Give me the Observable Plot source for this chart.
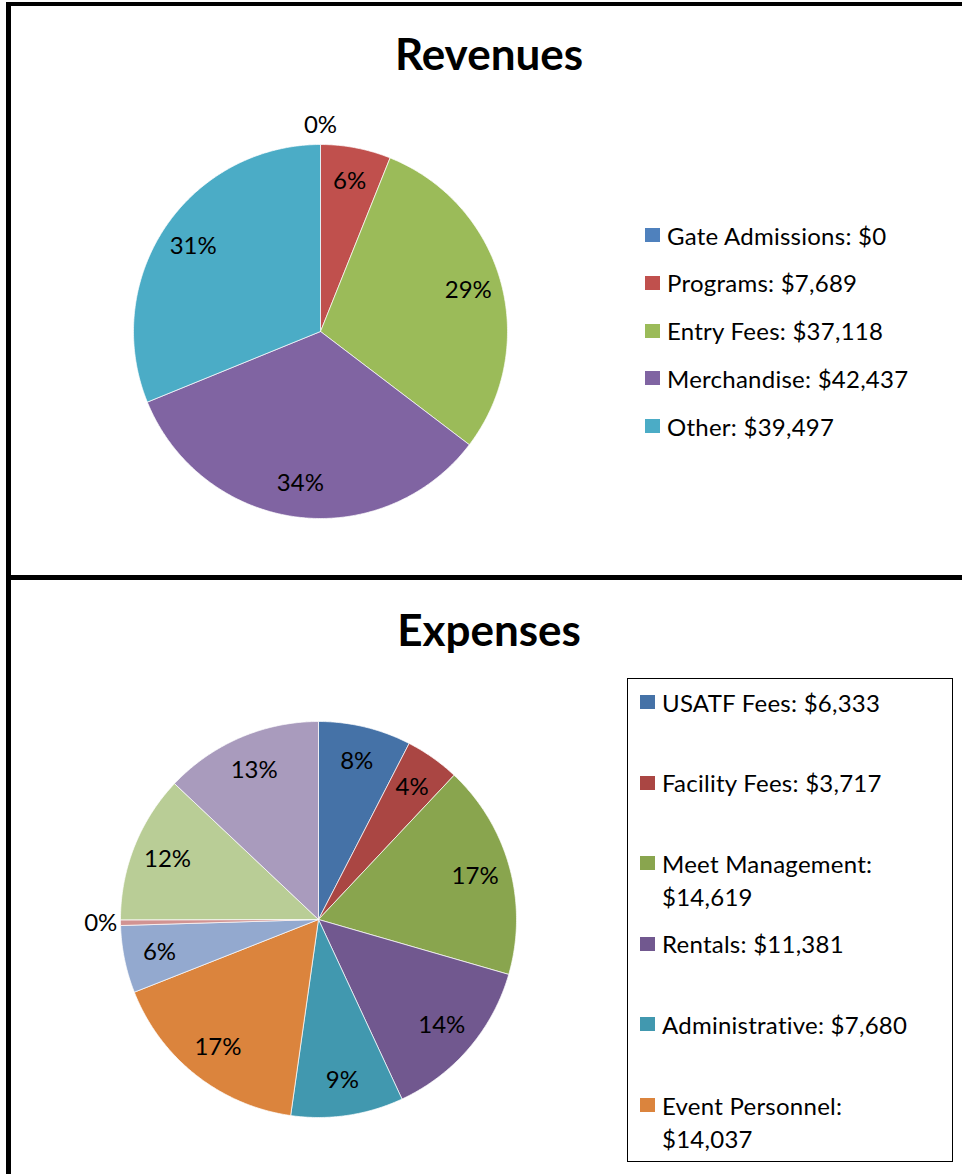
<!DOCTYPE html>
<html><head><meta charset="utf-8">
<script src="https://cdn.jsdelivr.net/npm/d3@7"></script>
<script src="https://cdn.jsdelivr.net/npm/@observablehq/plot@0.6"></script>
<style>
html,body{margin:0;padding:0;background:#fff;}
body{width:962px;height:1174px;position:relative;overflow:hidden;font-family:Lato,"Open Sans",sans-serif;color:#000;}
.line{position:absolute;background:#000;}
.title{position:absolute;font-weight:bold;font-size:44px;line-height:44px;text-align:center;width:500px;white-space:nowrap;}
.leg{position:absolute;font-size:24px;letter-spacing:0.25px;line-height:33px;}
.sw{position:absolute;width:15px;height:14px;}
.chart{position:absolute;}
.box{position:absolute;border:1.5px solid #000;box-sizing:border-box;}
</style></head><body>
<script>
// ---- Revenues ----
const revCategories = ["Gate Admissions", "Programs", "Entry Fees", "Merchandise", "Other"];
const revValues = [0, 7689, 37118, 42437, 39497];
const revColors = ["#4F81BD", "#C0504D", "#9BBB59", "#8064A2", "#4BACC6"];

// ---- Expenses (last four categories are not shown in the clipped legend) ----
const expCategories = ["USATF Fees", "Facility Fees", "Meet Management", "Rentals", "Administrative",
  "Event Personnel", "Category 7", "Category 8", "Category 9", "Category 10"];
const expValues = [6333, 3717, 14619, 11381, 7680, 14037, 4603, 380, 10103, 10847];
const expColors = ["#4572A7", "#AA4643", "#89A54E", "#71588F", "#4198AF", "#DB843D",
  "#93A9CF", "#D19392", "#B9CD96", "#A99BBD"];
const expLegendShown = 6;

const titles = ["Revenues", "Expenses"];

function el(tag, cls, css, text) {
  const e = document.createElement(tag);
  if (cls) e.className = cls;
  Object.assign(e.style, css || {});
  if (text != null) e.textContent = text;
  document.body.appendChild(e);
  return e;
}

// percentages rounded so that they add up to 100 (largest remainder)
function roundedPercents(vals) {
  const total = d3.sum(vals);
  const raw = vals.map(v => v / total * 100);
  const fl = raw.map(Math.floor);
  let left = 100 - d3.sum(fl);
  const order = d3.range(vals.length).sort((a, b) => (raw[b] - fl[b]) - (raw[a] - fl[a]));
  for (const i of order) { if (left <= 0) break; fl[i] += 1; left--; }
  return fl;
}

function pieChart(cats, vals, colors, R, cx, cy) {
  const total = d3.sum(vals);
  const pct = roundedPercents(vals);
  const half = Math.round(R * 1.3);
  const ext = half / R;
  const poly = [];
  const labels = [];
  let acc = 0;
  cats.forEach((c, i) => {
    const a0 = acc / total * 2 * Math.PI;
    acc += vals[i];
    const a1 = acc / total * 2 * Math.PI;
    const share = vals[i] / total;
    if (a1 > a0) {
      const n = Math.max(2, Math.ceil((a1 - a0) / (Math.PI / 360)));
      poly.push({cat: c, x: 0, y: 0});
      for (let k = 0; k <= n; k++) {
        const a = a0 + (a1 - a0) * k / n;
        poly.push({cat: c, x: Math.sin(a), y: Math.cos(a)});
      }
      poly.push({cat: c, x: 0, y: 0});
    }
    const am = (a0 + a1) / 2;
    const lr = share < 0.01 ? 1.1 : 0.82;
    labels.push({cat: c, x: lr * Math.sin(am), y: lr * Math.cos(am), text: pct[i] + "%"});
  });
  const svg = Plot.plot({
    width: 2 * half, height: 2 * half, margin: 0,
    x: {domain: [-ext, ext], axis: null},
    y: {domain: [-ext, ext], axis: null},
    color: {domain: cats, range: colors},
    style: {background: "transparent", fontFamily: "Lato, sans-serif", overflow: "visible"},
    marks: [
      Plot.line(poly, {x: "x", y: "y", z: "cat", fill: "cat", stroke: "white", strokeWidth: 0.7, strokeLinejoin: "round"}),
      Plot.text(labels, {x: "x", y: "y", text: "text", fontSize: 24, fill: "black"})
    ]
  });
  const wrap = el("div", "chart", {left: (cx - half) + "px", top: (cy - half) + "px"});
  wrap.appendChild(svg);
}

// frame lines
el("div", "line", {left: "6px", top: "2px", width: "960px", height: "4px"});
el("div", "line", {left: "6px", top: "2px", width: "5px", height: "1180px"});
el("div", "line", {left: "6px", top: "575px", width: "960px", height: "5px"});

// charts
pieChart(revCategories, revValues, revColors, 187, 320, 331);
pieChart(expCategories, expValues, expColors, 198, 318, 919);

// titles
el("div", "title", {left: (489 - 250) + "px", top: "31px"}, titles[0]);
el("div", "title", {left: (489 - 250) + "px", top: "607px"}, titles[1]);

const fmt = d3.format(",");
// revenue legend
revCategories.forEach((c, i) => {
  const yc = 235 + i * 47.75;
  el("div", "sw", {left: "645px", top: (yc - 7) + "px", background: revColors[i]});
  el("div", "leg", {left: "667px", top: (yc - 16.5) + "px", whiteSpace: "nowrap"}, `${c}: $${fmt(revValues[i])}`);
});

// expenses legend
el("div", "box", {left: "627px", top: "678px", width: "326px", height: "484px"});
expCategories.slice(0, expLegendShown).forEach((c, i) => {
  const yc = 702 + i * 80.6;
  el("div", "sw", {left: "640px", top: (yc - 7) + "px", background: expColors[i]});
  el("div", "leg", {left: "662px", top: (yc - 16.5) + "px", width: "262px"}, `${c}: $${fmt(expValues[i])}`);
});
</script>
</body></html>
